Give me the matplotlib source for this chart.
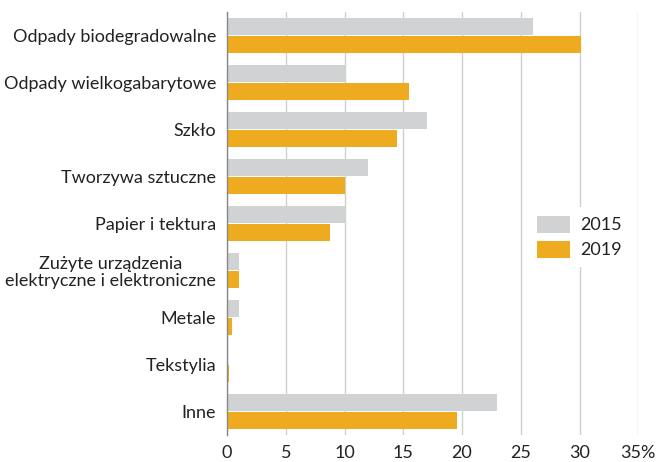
import matplotlib
matplotlib.use("Agg")
import matplotlib.pyplot as plt
import numpy as np

categories = ["Odpady biodegradowalne", "Odpady wielkogabarytowe", "Szkło",
              "Tworzywa sztuczne", "Papier i tektura",
              "Zużyte urządzenia\nelektryczne i elektroniczne", "Metale",
              "Tekstylia", "Inne"]
values_2015 = [26, 10, 17, 12, 10, 1.0, 1.0, 0.0, 23]
values_2019 = [30.1, 15.5, 14.5, 10, 8.8, 1.0, 0.4, 0.15, 19.6]
series_names = ["2015", "2019"]
tick_values = [0, 5, 10, 15, 20, 25, 30, 35]
tick_labels = ["0", "5", "10", "15", "20", "25", "30", "35%"]

plt.rcParams['font.family'] = ['Lato', 'DejaVu Sans']

fig = plt.figure(figsize=(6.62, 4.62), dpi=100)
ax = fig.add_axes([227/662, 1-435/462, (638.3-227)/662, (435-12)/462])

grey = "#d1d2d4"
orange = "#efab1f"
n = len(categories)
y = np.arange(n)
h = 0.37
gap = 0.02
ax.barh(y - (h/2 + gap/2), values_2015, height=h, color=grey, label=series_names[0], zorder=2)
ax.barh(y + (h/2 + gap/2), values_2019, height=h, color=orange, label=series_names[1], zorder=2)

ax.set_ylim(n - 0.5, -0.5)
ax.set_xlim(0, 35)
ax.set_yticks(y)
ax.set_yticklabels(categories, fontsize=13, color="#222222", multialignment="center",
                   linespacing=1.05)
ax.set_xticks(tick_values)
ax.set_xticklabels(tick_labels, fontsize=13, color="#222222")
ax.tick_params(axis="both", length=0)
ax.tick_params(axis="y", pad=8)
ax.tick_params(axis="x", pad=7)
ax.xaxis.grid(True, color="#d0d0d0", linewidth=1.0, zorder=0)
ax.set_axisbelow(True)
for s in ["top", "right", "bottom"]:
    ax.spines[s].set_visible(False)
ax.spines["left"].set_color("#888888")
ax.spines["left"].set_linewidth(1.0)
ax.spines["left"].set_zorder(3)

leg = ax.legend(loc="center left", bbox_to_anchor=(0.732, 0.468), frameon=True,
                fontsize=13, handlelength=1.83, handleheight=1.1,
                labelspacing=0.4, borderpad=0.5, borderaxespad=0, handletextpad=0.55)
leg.get_frame().set_edgecolor("none")
leg.get_frame().set_facecolor("white")
leg.get_frame().set_alpha(1)
for t in leg.get_texts():
    t.set_color("#222222")

fig.savefig("out.png", dpi=100)
